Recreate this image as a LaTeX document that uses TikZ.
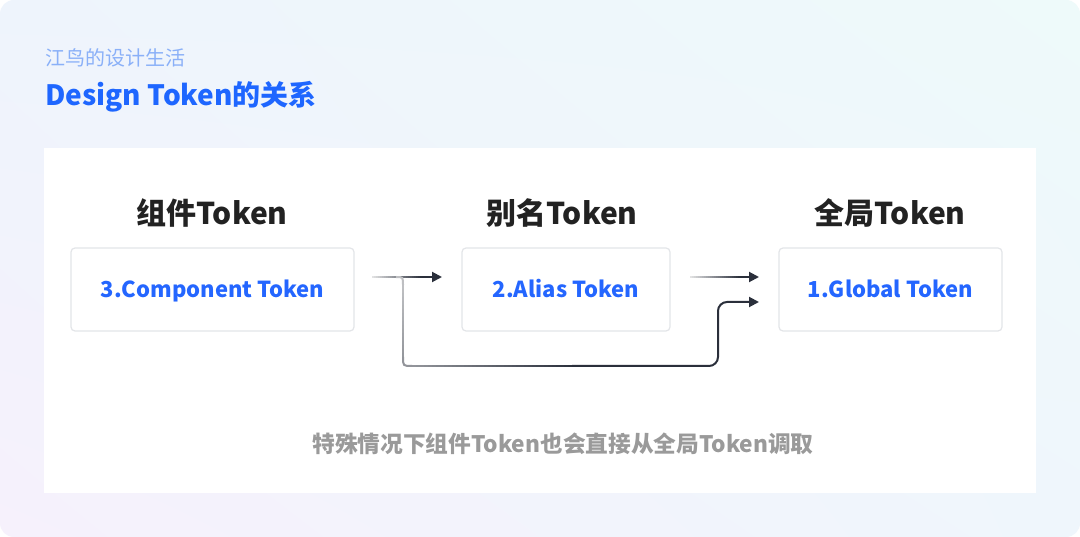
\documentclass[tikz,border=0pt]{standalone}
\usepackage{fontspec}
\setmainfont{Noto Sans CJK SC}
\usetikzlibrary{shadings,arrows.meta}
\definecolor{bgTL}{HTML}{EEF4FC}
\definecolor{bgTR}{HTML}{EEFAFA}
\definecolor{bgBL}{HTML}{F6F1FC}
\definecolor{bgBR}{HTML}{EFF6FC}
\definecolor{titleblue}{HTML}{1E66FF}
\definecolor{subblue}{HTML}{8AB0F8}
\definecolor{headdark}{HTML}{222222}
\definecolor{boxblue}{HTML}{2466FF}
\definecolor{boxline}{HTML}{E3E5E8}
\definecolor{notegray}{HTML}{9A9A9A}
\definecolor{arrowdark}{HTML}{2A2F3B}
\definecolor{arrowlight}{HTML}{F2F2F2}
\begin{document}
\begin{tikzpicture}[x=1pt,y=-1pt,
  head/.style={font=\fontsize{30}{36}\selectfont\bfseries, text=headdark, inner sep=0pt},
  tokbox/.style={draw=boxline, line width=1.2pt, fill=white, rounded corners=4pt,
    font=\fontsize{22}{26}\selectfont\bfseries, text=boxblue, minimum height=83pt,
    text height=16pt, text depth=0pt},
  conn/.style={draw=arrowdark, line width=2pt, -{Triangle[length=10pt,width=10pt]}},
  seg/.style={line width=2pt}]
\useasboundingbox (0,0) rectangle (1080,537);
\fill[white] (0,0) rectangle (1080,537);
\shade[rounded corners=14pt, upper left=bgTL, upper right=bgTR, lower left=bgBL, lower right=bgBR] (0,0) rectangle (1080,537);
% header
\node[anchor=west, inner sep=0pt, text=subblue, font=\fontsize{20}{24}\selectfont] (sub) at (45,58) {江鸟的设计生活};
\node[anchor=west, inner sep=0pt, text=titleblue, font=\fontsize{28}{32}\selectfont\bfseries] (title) at (45,97) {Design Token的关系};
% panel
\fill[white] (44,148) rectangle (1036,493);
% connector coordinates
\coordinate (a1s) at (372,277);
\coordinate (a1m) at (422,277);
\coordinate (a1e) at (442,277);
\coordinate (a2s) at (690,277);
\coordinate (a2m) at (740,277);
\coordinate (a2e) at (759,277);
\coordinate (lpA) at (403,285);
\coordinate (lpB) at (403,357);
\coordinate (lpB2) at (412,366);
\coordinate (lpM) at (572,366);
\coordinate (lpC) at (718,366);
\coordinate (lpD) at (718,302);
\coordinate (lpE) at (759,302);
% arrow 3 -> 2 (fading in from the left)
\foreach \i in {0,...,24} {
  \pgfmathsetmacro\p{8+\i*3.8}
  \draw[seg, color=arrowdark!\p!arrowlight] ([xshift=\i*2pt]a1s) -- ([xshift=\i*2pt+2.4pt]a1s);
}
\draw[conn] (a1m) -- (a1e);
% arrow 2 -> 1
\foreach \i in {0,...,24} {
  \pgfmathsetmacro\p{8+\i*3.8}
  \draw[seg, color=arrowdark!\p!arrowlight] ([xshift=\i*2pt]a2s) -- ([xshift=\i*2pt+2.4pt]a2s);
}
\draw[conn] (a2m) -- (a2e);
% bypass 3 -> 1
\draw[seg, color=arrowdark!26!arrowlight] (396,277) .. controls (403,277) .. (lpA);
\foreach \i in {0,...,17} {
  \pgfmathsetmacro\p{26+\i*1.2}
  \draw[seg, color=arrowdark!\p!arrowlight] ([yshift=-\i*4pt]lpA) -- ([yshift=-\i*4pt-4.4pt]lpA);
}
\draw[seg, color=arrowdark!48!arrowlight] (lpB) .. controls (403,366) .. (lpB2);
\foreach \i in {0,...,39} {
  \pgfmathsetmacro\p{48+\i*1.3}
  \draw[seg, color=arrowdark!\p!arrowlight] ([xshift=\i*4pt]lpB2) -- ([xshift=\i*4pt+4.4pt]lpB2);
}
\draw[conn, rounded corners=9pt] (lpM) -- (lpC) -- (lpD) -- (lpE);
% headings
\node[head] (h1) at (212,213) {组件Token};
\node[head] (h2) at (562,213) {别名Token};
\node[head] (h3) at (890,213) {全局Token};
% boxes
\node[tokbox, minimum width=283pt] (b1) at (212.5,289.5) {3.Component Token};
\node[tokbox, minimum width=208pt] (b2) at (566,289.5) {2.Alias Token};
\node[tokbox, minimum width=223pt] (b3) at (890.5,289.5) {1.Global Token};
% note
\node[inner sep=0pt, text=notegray, font=\fontsize{22.7}{27}\selectfont\bfseries] (note) at (563,444) {特殊情况下组件Token也会直接从全局Token调取};
\end{tikzpicture}
\end{document}
